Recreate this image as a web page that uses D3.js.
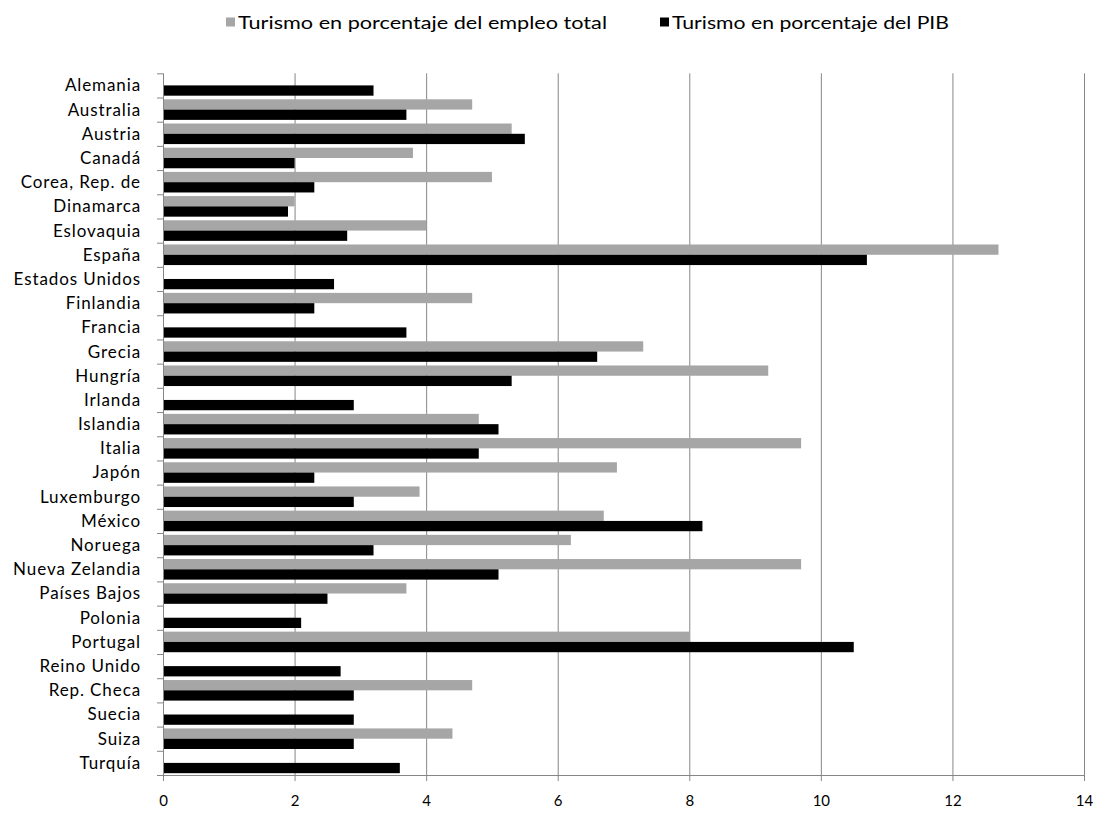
<!DOCTYPE html>
<html>
<head>
<meta charset="utf-8">
<script src="https://cdn.jsdelivr.net/npm/d3@7"></script>
<style>
  html, body { margin: 0; padding: 0; background: #fff; }
  svg { display: block; font-family: Lato, "Open Sans", sans-serif; }
</style>
</head>
<body>
<svg id="chart" width="1095" height="814"></svg>
<script>
// Países (orden de arriba abajo)
const countries = [
  "Alemania", "Australia", "Austria", "Canadá", "Corea, Rep. de", "Dinamarca",
  "Eslovaquia", "España", "Estados Unidos", "Finlandia", "Francia", "Grecia",
  "Hungría", "Irlanda", "Islandia", "Italia", "Japón", "Luxemburgo", "México",
  "Noruega", "Nueva Zelandia", "Países Bajos", "Polonia", "Portugal",
  "Reino Unido", "Rep. Checa", "Suecia", "Suiza", "Turquía"
];

// Turismo en porcentaje del empleo total (null = sin dato)
const employment = [
  null, 4.7, 5.3, 3.8, 5.0, 2.0,
  4.0, 12.7, null, 4.7, null, 7.3,
  9.2, null, 4.8, 9.7, 6.9, 3.9, 6.7,
  6.2, 9.7, 3.7, null, 8.0,
  null, 4.7, null, 4.4, null
];

// Turismo en porcentaje del PIB
const gdp = [
  3.2, 3.7, 5.5, 2.0, 2.3, 1.9,
  2.8, 10.7, 2.6, 2.3, 3.7, 6.6,
  5.3, 2.9, 5.1, 4.8, 2.3, 2.9, 8.2,
  3.2, 5.1, 2.5, 2.1, 10.5,
  2.7, 2.9, 2.9, 2.9, 3.6
];

const seriesNames = [
  "Turismo en porcentaje del empleo total",
  "Turismo en porcentaje del PIB"
];
const seriesColors = ["#a6a6a6", "#000000"];
const xTicks = [0, 2, 4, 6, 8, 10, 12, 14];

const svg = d3.select("#chart");
const plotLeft = 163, plotRight = 1084, plotTop = 73.3, plotBottom = 775;
const axisColor = "#868686";

const x = d3.scaleLinear().domain([0, 14]).range([plotLeft, plotRight]);
const y = d3.scaleBand().domain(countries).range([plotTop, plotBottom])
  .paddingInner(0.15).paddingOuter(0.075);
const sub = d3.scaleBand().domain([0, 1]).range([0, y.bandwidth()]);

// Líneas de división verticales
svg.append("g").selectAll("line")
  .data(xTicks.filter(t => t > 0))
  .join("line")
  .attr("x1", d => x(d) + 0.5).attr("x2", d => x(d) + 0.5)
  .attr("y1", plotTop).attr("y2", plotBottom)
  .attr("stroke", axisColor).attr("stroke-width", 1);

// Barras
const rows = countries.map((c, i) => ({ c, vals: [employment[i], gdp[i]] }));
const groups = svg.append("g").selectAll("g")
  .data(rows).join("g")
  .attr("transform", d => `translate(0,${y(d.c)})`);
groups.selectAll("rect")
  .data(d => d.vals.map((v, k) => ({ v, k })).filter(e => e.v != null))
  .join("rect")
  .attr("x", x(0))
  .attr("y", e => sub(e.k))
  .attr("width", e => x(e.v) - x(0))
  .attr("height", sub.bandwidth())
  .attr("fill", e => seriesColors[e.k]);

// Eje vertical con marcas entre categorías
const yAxisG = svg.append("g");
yAxisG.append("line")
  .attr("x1", plotLeft + 0.5).attr("x2", plotLeft + 0.5)
  .attr("y1", plotTop).attr("y2", plotBottom)
  .attr("stroke", axisColor);
yAxisG.selectAll("line.tick")
  .data(d3.range(countries.length + 1))
  .join("line").attr("class", "tick")
  .attr("x1", plotLeft - 6).attr("x2", plotLeft)
  .attr("y1", i => plotTop + i * y.step() + 0.5)
  .attr("y2", i => plotTop + i * y.step() + 0.5)
  .attr("stroke", axisColor);
yAxisG.selectAll("text")
  .data(countries).join("text")
  .attr("x", 141)
  .attr("y", d => y(d) + y.bandwidth() / 2)
  .attr("dy", "0.35em")
  .attr("text-anchor", "end")
  .attr("font-size", 17)
  .attr("letter-spacing", "0.9px")
  .attr("fill", "#000")
  .text(d => d);

// Eje horizontal
const xAxis = d3.axisBottom(x).tickValues(xTicks).tickSize(6).tickPadding(14)
  .tickFormat(d3.format("d"));
const xAxisG = svg.append("g")
  .attr("transform", `translate(0,${plotBottom})`)
  .call(xAxis);
xAxisG.select(".domain").attr("stroke", axisColor).attr("d", `M${plotLeft},0.5H${plotRight}`);
xAxisG.selectAll(".tick line").attr("stroke", axisColor);
xAxisG.selectAll(".tick text")
  .attr("font-size", 15).attr("font-family", "Lato, sans-serif").attr("fill", "#000");

// Leyenda
const legend = svg.append("g");
const legendPos = [226, 660];
const legendTextWidth = [369, 277];
seriesNames.forEach((name, k) => {
  legend.append("rect")
    .attr("x", legendPos[k]).attr("y", 17.5)
    .attr("width", 9).attr("height", 9)
    .attr("fill", seriesColors[k]);
  legend.append("text")
    .attr("x", legendPos[k] + 12).attr("y", 22.5)
    .attr("dy", "0.35em")
    .attr("font-size", 18)
    .attr("textLength", legendTextWidth[k])
    .attr("lengthAdjust", "spacingAndGlyphs")
    .attr("fill", "#000")
    .text(name);
});
</script>
</body>
</html>
